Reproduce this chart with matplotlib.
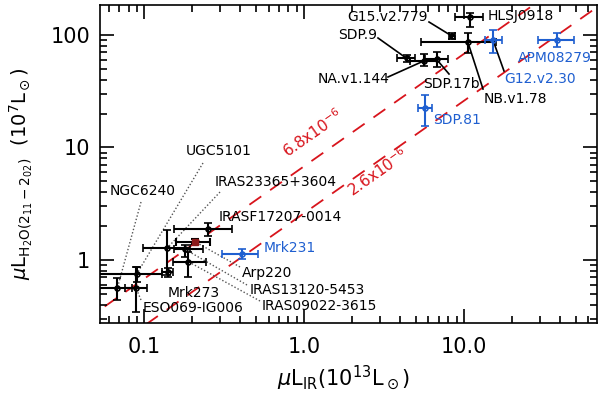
import numpy as np
import matplotlib
matplotlib.use("Agg")
import matplotlib.pyplot as plt
from matplotlib.ticker import FixedLocator, NullFormatter, FixedFormatter

plt.rcParams['font.family'] = ['DejaVu Sans']
plt.rcParams['mathtext.fontset'] = 'dejavusans'

# ---------------- data ----------------
names = ["HLSJ0918", "G15.v2.779", "NB.v1.78", "SDP.9", "NA.v1.144", "SDP.17b",
         "G12.v2.30", "APM08279", "SDP.81", "Mrk231",
         "IRASF17207-0014", "Arp220", "IRAS13120-5453", "IRAS23365+3604",
         "IRAS09022-3615", "Mrk273", "UGC5101", "NGC6240", "ESO069-IG006"]
lir = [10.9, 8.41, 10.6, 4.38, 5.65, 6.75,
       15.2, 38.5, 5.7, 0.411,
       0.252, 0.208, 0.180, 0.139, 0.189, 0.142, 0.090, 0.068, 0.0891]
lir_lo = [8.79, 8.06, 5.36, 3.81, 4.6, 5.7,
          13.5, 29.0, 5.16, 0.309,
          0.154, 0.158, 0.154, 0.099, 0.151, 0.129, 0.050, 0.050, 0.076]
lir_hi = [13.1, 8.79, 15.8, 4.94, 6.78, 7.94,
          17.3, 48.7, 6.36, 0.518,
          0.353, 0.259, 0.235, 0.194, 0.244, 0.152, 0.129, 0.0838, 0.104]
lh2o = [143.7, 98.0, 86.1, 62.1, 59.1, 60.8,
        90.3, 90.3, 22.6, 1.13,
        1.875, 1.455, 1.245, 1.27, 0.966, 0.787, 0.751, 0.56, 0.56]
lh2o_lo = [118.5, 92.0, 68.8, 57.5, 53.5, 52.3,
           68.8, 78.7, 15.5, 1.014,
           1.634, 1.39, 1.07, 0.736, 0.711, 0.711, 0.641, 0.441, 0.347]
lh2o_hi = [157.8, 104.0, 104.8, 66.3, 67.6, 71.1,
           110.7, 104.0, 29.2, 1.245,
           2.146, 1.54, 1.36, 1.85, 1.185, 0.849, 0.872, 0.688, 0.872]
groups = ["hz", "hz", "hz", "hz", "hz", "hz",
          "blue", "blue", "blue", "blue",
          "local", "arp", "local", "local", "local", "local", "local", "local", "local"]

ratios = [6.8e-6, 2.6e-6]
ratio_labels = [r"6.8x10$^{-6}$", r"2.6x10$^{-6}$"]

xticks = [0.1, 1.0, 10.0]
xticklabels = ["0.1", "1.0", "10.0"]
yticks = [1, 10, 100]
yticklabels = ["1", "10", "100"]

# ---------------- layout ----------------
W, H = 600, 395
AX_L, AX_R, AX_T, AX_B = 100, 597, 5, 323
XLIM = (0.053, 68.0)
YLIM = (0.275, 185.0)

BLUE = "#1f5fd0"
RED = "#d8141c"
ARP = "#8b1a1a"

fig = plt.figure(figsize=(W / 100, H / 100), dpi=100)
ax = fig.add_axes([AX_L / W, 1 - AX_B / H, (AX_R - AX_L) / W, (AX_B - AX_T) / H])
ax.set_xscale("log")
ax.set_yscale("log")
ax.set_xlim(*XLIM)
ax.set_ylim(*YLIM)


def pix(px, py):
    fx = (px - AX_L) / (AX_R - AX_L)
    fy = (AX_B - py) / (AX_B - AX_T)
    lx0, lx1 = np.log10(XLIM)
    ly0, ly1 = np.log10(YLIM)
    return 10 ** (lx0 + fx * (lx1 - lx0)), 10 ** (ly0 + fy * (ly1 - ly0))


# ratio lines
xx = np.logspace(np.log10(XLIM[0]) - 0.1, np.log10(XLIM[1]) + 0.1, 50)
for r in ratios:
    ax.plot(xx, xx * r * 1e13 / 1e7, color=RED, lw=1.3, ls=(0, (8, 6)), zorder=1)

# data points
for i, n in enumerate(names):
    g = groups[i]
    col = BLUE if g == "blue" else "black"
    x, y = lir[i], lh2o[i]
    xe = [[x - lir_lo[i]], [lir_hi[i] - x]]
    ye = [[y - lh2o_lo[i]], [lh2o_hi[i] - y]]
    if g == "arp":
        ax.errorbar([x], [y], xerr=xe, yerr=ye, fmt="s", color="black", ms=4,
                    mfc=ARP, mec=ARP, elinewidth=1.5, capsize=3, capthick=1.5, zorder=3)
    else:
        ax.errorbar([x], [y], xerr=xe, yerr=ye, fmt="o", color=col, ms=3.5,
                    mfc="none", mec=col, mew=1.2, elinewidth=1.5, capsize=3,
                    capthick=1.5, zorder=3)

# labels: name -> (px, py, ha, line_start_px or None, style)
label_layout = {
    "HLSJ0918": (488, 16, "left", None, None),
    "G15.v2.779": (428, 17, "right", (429, 22), "solid"),
    "SDP.9": (377, 35, "right", (378, 38), "solid"),
    "NA.v1.144": (318, 79, "left", (388, 77), "solid"),
    "SDP.17b": (423, 84, "left", (449, 74), "solid"),
    "NB.v1.78": (484, 99, "left", (483, 89), "solid"),
    "G12.v2.30": (504, 79, "left", (504, 71), "solid"),
    "APM08279": (518, 58, "left", None, None),
    "SDP.81": (433, 120, "left", None, None),
    "Mrk231": (264, 248, "left", None, None),
    "IRASF17207-0014": (219, 217, "left", None, None),
    "Arp220": (242, 273, "left", (240, 267), "dotted"),
    "IRAS13120-5453": (250, 290, "left", (247, 285), "dotted"),
    "IRAS23365+3604": (215, 182, "left", (220, 192), "dotted"),
    "IRAS09022-3615": (262, 306, "left", (260, 301), "dotted"),
    "Mrk273": (168, 293, "left", None, None),
    "UGC5101": (186, 151, "left", (203, 163), "dotted"),
    "NGC6240": (110, 191, "left", (141, 202), "dotted"),
    "ESO069-IG006": (143, 308, "left", (141, 300), "dotted"),
}

for i, n in enumerate(names):
    px, py, ha, ls0, sty = label_layout[n]
    col = BLUE if groups[i] == "blue" else "black"
    tx, ty = pix(px, py)
    ax.text(tx, ty, n, ha=ha, va="center", fontsize=10, color=col, zorder=5)
    if ls0 is not None:
        sx, sy = pix(*ls0)
        if sty == "solid":
            ax.plot([sx, lir[i]], [sy, lh2o[i]], color="black", lw=1.2, zorder=2)
        else:
            ax.plot([sx, lir[i]], [sy, lh2o[i]], color="#555555", lw=1.0,
                    ls=(0, (1, 1.5)), zorder=2)

# ratio labels
ang = np.degrees(np.arctan(((AX_B - AX_T) / (np.log10(YLIM[1]) - np.log10(YLIM[0]))) /
                           ((AX_R - AX_L) / (np.log10(XLIM[1]) - np.log10(XLIM[0])))))
for lab, (px, py) in zip(ratio_labels, [(313, 133), (378, 172)]):
    tx, ty = pix(px, py)
    ax.text(tx, ty, lab, color=RED, fontsize=11, rotation=ang, ha="center",
            va="center", rotation_mode="anchor", zorder=4)

# ticks
ax.xaxis.set_major_locator(FixedLocator(xticks))
ax.xaxis.set_major_formatter(FixedFormatter(xticklabels))
ax.yaxis.set_major_locator(FixedLocator(yticks))
ax.yaxis.set_major_formatter(FixedFormatter(yticklabels))
xmin = [m * 10.0 ** e for e in range(-2, 3) for m in range(2, 10)]
ymin = [m * 10.0 ** e for e in range(-1, 3) for m in range(2, 10)]
ax.xaxis.set_minor_locator(FixedLocator(xmin))
ax.yaxis.set_minor_locator(FixedLocator(ymin))
ax.xaxis.set_minor_formatter(NullFormatter())
ax.yaxis.set_minor_formatter(NullFormatter())
ax.tick_params(which="both", direction="in", top=True, right=True, width=1.2,
               labelsize=15)
ax.tick_params(which="major", length=10)
ax.tick_params(which="minor", length=5)
ax.tick_params(axis="y", which="major", pad=7)
ax.tick_params(axis="x", which="major", pad=10)
for s in ax.spines.values():
    s.set_linewidth(1.2)

ax.set_xlabel(r"$\mu$L$_{\rm IR}$(10$^{13}$L$_\odot$)", fontsize=15)
ax.set_ylabel(r"$\mu$L$_{\rm H_2O(2_{11}-2_{02})}$  (10$^7$L$_\odot$)", fontsize=14)
ax.xaxis.label.set_va("center")
ax.xaxis.set_label_coords(0.49, -0.17)
ax.yaxis.set_label_coords(-0.13, 0.47)

fig.savefig("out.png", dpi=100)
